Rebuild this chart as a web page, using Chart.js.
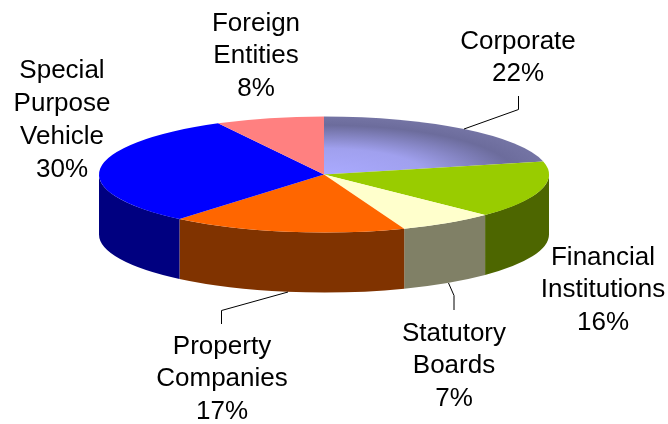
<!DOCTYPE html>
<html>
<head>
<meta charset="utf-8">
<style>
  html, body { margin: 0; padding: 0; background: #fff; }
  canvas { display: block; }
</style>
<script src="https://cdn.jsdelivr.net/npm/chart.js@4/dist/chart.umd.min.js"></script>
</head>
<body>
<canvas id="pie" width="668" height="424"></canvas>
<script>
// Slice sizes, the printed percents are kept apart
const categories = ['Corporate', 'Financial Institutions', 'Statutory Boards', 'Property Companies', 'Special Purpose Vehicle', 'Foreign Entities'];
const shares = [21.4, 15.9, 6.9, 16.9, 31.1, 7.8];
const percents = ['22%', '16%', '7%', '17%', '30%', '8%'];
const topColors = ['#AAAAFF', '#99CC00', '#FFFFCC', '#FF6600', '#0000FF', '#FF8080'];
const wallColors = ['#55557F', '#4D6600', '#808066', '#803300', '#000080', '#804040'];

// Label text per line and where the first line sits
const labelLines = [['Corporate'], ['Financial', 'Institutions'], ['Statutory', 'Boards'], ['Property', 'Companies'], ['Special', 'Purpose', 'Vehicle'], ['Foreign', 'Entities']];
const labelAnchors = [[518, 41.5], [603, 257.5], [454, 333.5], [222, 346.5], [62, 71], [256, 23.5]];
const leaderLines = [
    [[464, 129], [518.5, 109.5], [518.5, 96]],
    [[448.5, 283], [454, 295.5], [454, 310]],
    [[288, 292], [221.5, 310.5], [221.5, 324]]
];

const TILT = 58 / 225;
const DEPTH = 60;
const RADIUS = 225;
const LINE_HEIGHT = 32.8;

const pie3d = {
    id: 'pie3d',
    beforeDatasetsDraw(chart) {
        const ctx = chart.ctx;
        const arcs = chart.getDatasetMeta(0).data;
        const cx = arcs[0].x, cy = arcs[0].y;
        const rx = arcs[0].outerRadius, ry = rx * TILT;

        // side walls, only the front half of the disc shows
        arcs.forEach((arc, i) => {
            const from = Math.max(arc.startAngle, 0);
            const to = Math.min(arc.endAngle, Math.PI);
            if (to <= from) return;
            ctx.beginPath();
            ctx.ellipse(cx, cy, rx, ry, 0, from, to);
            ctx.ellipse(cx, cy + DEPTH, rx, ry, 0, to, from, true);
            ctx.closePath();
            ctx.fillStyle = wallColors[i];
            ctx.fill();
        });

        // squash the round pie into the top face
        ctx.save();
        ctx.translate(cx, cy);
        ctx.scale(1, TILT);
        ctx.translate(-cx, -cy);
    },
    afterDatasetsDraw(chart) {
        const ctx = chart.ctx;
        ctx.restore();

        ctx.strokeStyle = '#000';
        ctx.lineWidth = 1;
        leaderLines.forEach(line => {
            ctx.beginPath();
            line.forEach((p, i) => i ? ctx.lineTo(p[0], p[1]) : ctx.moveTo(p[0], p[1]));
            ctx.stroke();
        });

        ctx.fillStyle = '#000';
        ctx.font = '26px "Liberation Sans", Arial, sans-serif';
        ctx.textAlign = 'center';
        ctx.textBaseline = 'middle';
        labelLines.forEach((lines, i) => {
            lines.concat(percents[i]).forEach((text, j) => {
                ctx.fillText(text, labelAnchors[i][0], labelAnchors[i][1] + j * LINE_HEIGHT);
            });
        });
    }
};

// Corporate slice is shaded, light at the centre and dark towards the rim
function sliceFill(c) {
    const area = c.chart.chartArea;
    if (c.dataIndex !== 0 || !area) return topColors[c.dataIndex];
    const x = (area.left + area.right) / 2;
    const y = (area.top + area.bottom) / 2;
    const g = c.chart.ctx.createRadialGradient(x, y, 0, x, y, RADIUS);
    g.addColorStop(0, '#AAAAFF');
    g.addColorStop(0.45, '#A0A0EE');
    g.addColorStop(0.85, '#6C6C9C');
    g.addColorStop(1, '#7474A4');
    return g;
}

new Chart(document.getElementById('pie'), {
    type: 'pie',
    data: {
        labels: categories,
        datasets: [{
            data: shares,
            backgroundColor: sliceFill,
            borderWidth: 0,
            clip: false
        }]
    },
    options: {
        responsive: false,
        animation: false,
        radius: RADIUS,
        layout: { padding: { left: 0, right: 20, top: 0, bottom: 75 } },
        plugins: {
            legend: { display: false },
            tooltip: { enabled: false }
        }
    },
    plugins: [pie3d]
});
</script>
</body>
</html>
